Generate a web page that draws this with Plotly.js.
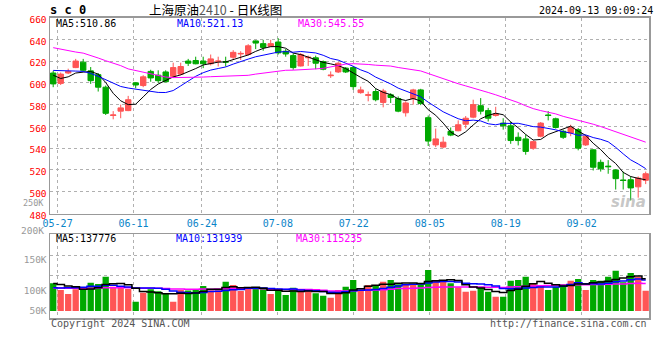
<!DOCTYPE html>
<html><head><meta charset="utf-8">
<script src="https://cdn.plot.ly/plotly-3.0.1.min.js"></script>
<style>html,body{margin:0;padding:0;background:#fff}#chart{width:660px;height:360px}</style>
</head><body><div id="chart"></div>
<script>
// ---- data ----
const dates = ['05-24','05-27','05-28','05-29','05-30','05-31','06-03','06-04','06-05','06-06',
 '06-07','06-11','06-12','06-13','06-14','06-17','06-18','06-19','06-20','06-21',
 '06-24','06-25','06-26','06-27','06-28','07-01','07-02','07-03','07-04','07-05',
 '07-08','07-09','07-10','07-11','07-12','07-15','07-16','07-17','07-18','07-19',
 '07-22','07-23','07-24','07-25','07-26','07-29','07-30','07-31','08-01','08-02',
 '08-05','08-06','08-07','08-08','08-09','08-12','08-13','08-14','08-15','08-16',
 '08-19','08-20','08-21','08-22','08-23','08-26','08-27','08-28','08-29','08-30',
 '09-02','09-03','09-04','09-05','09-06','09-09','09-10','09-11','09-12','09-13'];
const openP = [609,599.5,609,614,619,611,607.5,596,570,574,
 574.5,600,597.5,610.5,607,610,606,608,620,620.5,
 620,617.5,619.5,619.5,623.5,626.5,626,638.5,636,633.5,
 637.5,629,625,615.5,623,623,619.5,606.5,610,613.5,
 614,591,588.5,592,582,589,585.5,572.5,585.5,593.5,
 568,543,541,555.5,556,562,568.5,579,574.5,570,
 563,560.5,550,548.5,540,551,570.5,567,555.5,554,
 557,543,538.5,527,523.5,520,510.8,511,504.5,510.5];
const highP = [611,609.5,613,622,622,614.5,609,597.5,574,580,
 588,600.5,607,612,611.5,611.5,618.5,618.5,622,624,
 624,626,624,624,630,629,635.5,639,639.5,639.5,
 641,631,627,627.5,625,625,620.5,610.5,619,614.5,
 615.5,596.5,592,594.5,594.5,590.5,587.5,583,594.5,594.5,
 570,558,550.5,559,565.5,569.5,584.5,586,577,578,
 567.5,564.5,554.5,552.5,547,564,574,568,557,561.5,
 558.5,551.5,539,529.5,529,520.5,518.5,514,514,518.5];
const lowP = [596,598,608,613.5,610.5,599,592,570.5,566.5,567.5,
 574,595,596,601,600,600.5,604.5,607,615.5,617,
 613.5,616,615,615,621,621,625,631,629.5,633,
 626,624,612,615,615.5,612.5,611.5,604.5,609,609,
 593.5,590,583,583,577.5,581.5,573,569,580,579.5,
 542,541,540,551,555.5,558,567.5,571,564.5,569,
 557,544,542.5,534,538.5,550,565.5,558,548.5,551,
 538,542,519.5,518.5,516.5,502,502,492,494.5,507];
const closeP = [599,608,610.5,620,611.5,602,596,572,570.5,577,
 584.5,598,605.5,604.5,602,601,614,615,618,617.5,
 617.5,622,620,619,628,627,634,636.5,632.5,636,
 627.5,626.5,614,626,623.5,618,612.5,607,618,610,
 596.5,593.5,589,584.5,592.5,586.5,574,581.5,593.5,581,
 546.5,548.5,545.5,552,561.5,567.5,580,574,567.5,571.5,
 560.5,547,547,537,546,563,570,559,550,559,
 540,551,522.5,521,523,512,510.3,503.5,512.5,516.5];
const volume = [119400,90500,73300,93400,93400,122000,116400,148000,104900,102000,
 94800,40200,79000,93400,85000,75000,40200,90500,88000,94800,
 107800,89100,89100,126300,112100,86200,94800,94800,100600,73300,
 86200,69000,100600,89100,86200,76200,66000,57500,90500,104700,
 133600,90500,112000,112000,126300,133600,115000,115000,112000,115000,
 176700,133600,127500,119400,102500,83200,87000,104700,83200,61600,
 61600,130000,133600,147800,116400,108000,90500,104700,116400,130600,
 137900,90500,133600,130600,147800,173700,123700,163800,147800,87500];
// sessions before the window (estimated from where the MA lines start)
const histClose = [653,655.5,650,641.5,662,671,647,630.5,652,674.5,
 643,665.5,649.5,632,646,629,615,618,602.5,617.5,
 612,610.5,622,614.5,620,623,603,602.5,607.5];
const histVolume = [92000,105000,88000,120000,97000,83000,110000,95000,101000,86000,
 118000,90000,99000,84000,107000,93000,89000,112000,96000,94000,
 95000,70000,88000,72000,80000,112500,109300,108900,144900];
const xTickLabels = ['05-27','06-11','06-24','07-08','07-22','08-05','08-19','09-02'];
const priceMAText = ['MA5:510.86','MA10:521.13','MA30:545.55'];
const volMAText = ['MA5:137776','MA10:131939','MA30:115235'];
const volTickText = ['50K','100K','150K'];
const volTickVals = [0, 86200, 219800];
const volGridVals = [152200, 238400];

// ---- styling ----
const RED='#ff5555', GREEN='#00a800', GRID='#b0b0b0', FRAME='#999999';
const MONO='DejaVu Sans Mono';
const W=660, H=360;
const L=50, R=649, T=17.5, B=213.5, VT=234.3, VB=318.3;
const SLOT=7.5, OFF=3.2;
const xRange=[-OFF/SLOT, (R-L-OFF)/SLOT];
const xi = dates.map((d,i)=>i);
const gridPos = k => (k*600/79 - OFF)/SLOT;
const xTickVals = xTickLabels.map(d => gridPos(dates.indexOf(d)));

function ma(series, hist, n){
  const all = hist.concat(series);
  return series.map((_,i)=>{ const j=i+hist.length; let s=0; for(let t=j-n+1;t<=j;t++) s+=all[t]; return s/n; });
}
const px = x => x/W, py = y => 1-y/H;

const traces = [
 {type:'candlestick', x:xi, open:openP, high:highP, low:lowP, close:closeP,
  increasing:{line:{color:RED,width:1}, fillcolor:RED},
  decreasing:{line:{color:GREEN,width:1}, fillcolor:GREEN},
  whiskerwidth:0, hoverinfo:'skip', xaxis:'x', yaxis:'y'},
 {type:'scatter', mode:'lines', x:xi, y:ma(closeP,histClose,5), line:{color:'#000000',width:1}, xaxis:'x', yaxis:'y', hoverinfo:'skip'},
 {type:'scatter', mode:'lines', x:xi, y:ma(closeP,histClose,10), line:{color:'#0000ff',width:1}, xaxis:'x', yaxis:'y', hoverinfo:'skip'},
 {type:'scatter', mode:'lines', x:xi, y:ma(closeP,histClose,30), line:{color:'#ff00ff',width:1}, xaxis:'x', yaxis:'y', hoverinfo:'skip'},
 {type:'bar', x:xi, y:volume, marker:{color:closeP.map((c,i)=> c>openP[i]?RED:GREEN), line:{width:0}}, xaxis:'x2', yaxis:'y2', hoverinfo:'skip'},
 {type:'scatter', mode:'lines', x:xi, y:ma(volume,histVolume,30), line:{color:'#ff00ff',width:1.5,shape:'hvh'}, xaxis:'x2', yaxis:'y3', hoverinfo:'skip'},
 {type:'scatter', mode:'lines', x:xi, y:ma(volume,histVolume,10), line:{color:'#0000ff',width:1.5,shape:'hvh'}, xaxis:'x2', yaxis:'y3', hoverinfo:'skip'},
 {type:'scatter', mode:'lines', x:xi, y:ma(volume,histVolume,5), line:{color:'#000000',width:1.5,shape:'hvh'}, xaxis:'x2', yaxis:'y3', hoverinfo:'skip'}
];

const volRange=[-31500, 330600];
const layout = {
 width:W, height:H, margin:{l:0,r:0,t:0,b:0}, paper_bgcolor:'#fff', plot_bgcolor:'#fff',
 showlegend:false, boxgap:0.28, boxgroupgap:0, bargap:0.16,
 xaxis:{domain:[px(L),px(R)], range:xRange, tickmode:'array', tickvals:xTickVals, ticktext:xTickLabels,
   showgrid:true, gridcolor:GRID, griddash:'dot', gridwidth:1, ticks:'', zeroline:false,
   tickfont:{family:MONO,size:10,color:'#0a84c8'}, showline:true, mirror:true, linecolor:FRAME, linewidth:1.5,
   rangeslider:{visible:false}, anchor:'y', fixedrange:true},
 yaxis:{domain:[py(B),py(T)], range:[480,660], tick0:480, dtick:20, showgrid:true, gridcolor:GRID, griddash:'dot',
   ticks:'', zeroline:false, tickfont:{family:MONO,size:9.5,color:'#ff0000'}, ticklabelshift:2,
   showline:true, mirror:true, linecolor:FRAME, linewidth:1.5, anchor:'x', fixedrange:true},
 xaxis2:{domain:[px(L),px(R)], range:xRange, tickmode:'array', tickvals:xTickVals, showticklabels:false,
   showgrid:true, gridcolor:GRID, griddash:'dot', ticks:'', zeroline:false,
   showline:true, mirror:true, linecolor:FRAME, linewidth:1.5, anchor:'y2', fixedrange:true},
 yaxis2:{domain:[py(VB),py(VT)], range:volRange, tickmode:'array', tickvals:volTickVals, ticktext:volTickText,
   showgrid:false, ticks:'', zeroline:false, tickfont:{family:MONO,size:9.5,color:'#999999'},
   showline:true, mirror:true, linecolor:FRAME, linewidth:1.5, anchor:'x2', fixedrange:true},
 yaxis3:{overlaying:'y2', range:volRange, tickmode:'array', tickvals:volGridVals, showticklabels:false,
   showgrid:true, gridcolor:GRID, griddash:'dot', ticks:'', zeroline:false, showline:false, anchor:'x2', fixedrange:true},
 annotations:[
   {text:'<b>s c 0</b>', x:px(48), y:py(9.5), xanchor:'left', font:{family:MONO,size:12,color:'#000'}},
   {text:'上海原油<span style="color:#555">2410</span> - 日K线图', x:px(215), y:py(9.5), xanchor:'center', font:{family:'Noto Sans CJK SC',size:12.5,color:'#000'}},
   {text:'2024-09-13 09:09:24', x:px(655), y:py(10), xanchor:'right', font:{family:MONO,size:10,color:'#000'}},
   {text:priceMAText[0], x:px(54), y:py(24), xanchor:'left', font:{family:MONO,size:10,color:'#000'}},
   {text:priceMAText[1], x:px(175), y:py(24), xanchor:'left', font:{family:MONO,size:10,color:'#0000ff'}},
   {text:priceMAText[2], x:px(296), y:py(24), xanchor:'left', font:{family:MONO,size:10,color:'#ff00ff'}},
   {text:volMAText[0], x:px(54), y:py(238.5), xanchor:'left', font:{family:MONO,size:10,color:'#000'}},
   {text:volMAText[1], x:px(174), y:py(238.5), xanchor:'left', font:{family:MONO,size:10,color:'#0000ff'}},
   {text:volMAText[2], x:px(294), y:py(238.5), xanchor:'left', font:{family:MONO,size:10,color:'#ff00ff'}},
   {text:'200K', x:px(46), y:py(230.5), xanchor:'right', font:{family:MONO,size:9.5,color:'#999999'}},
   {text:'250K', x:px(46), y:py(202.5), xanchor:'right', font:{family:MONO,size:8.5,color:'#999999'}},
   {text:'Copyright 2024 SINA.COM', x:px(49), y:py(323.5), xanchor:'left', font:{family:MONO,size:10,color:'#555'}},
   {text:'http://finance.sina.com.cn', x:px(649), y:py(323.5), xanchor:'right', font:{family:MONO,size:10,color:'#555'}},
   {text:'<b><i>sina</i></b>', x:px(648), y:py(202), xanchor:'right', font:{family:'DejaVu Sans',size:15,color:'rgba(150,150,150,0.55)'}}
 ].map(a=>Object.assign({xref:'paper', yref:'paper', yanchor:'middle', showarrow:false}, a))
};
Plotly.newPlot('chart', traces, layout, {staticPlot:true, displayModeBar:false});
</script></body></html>
